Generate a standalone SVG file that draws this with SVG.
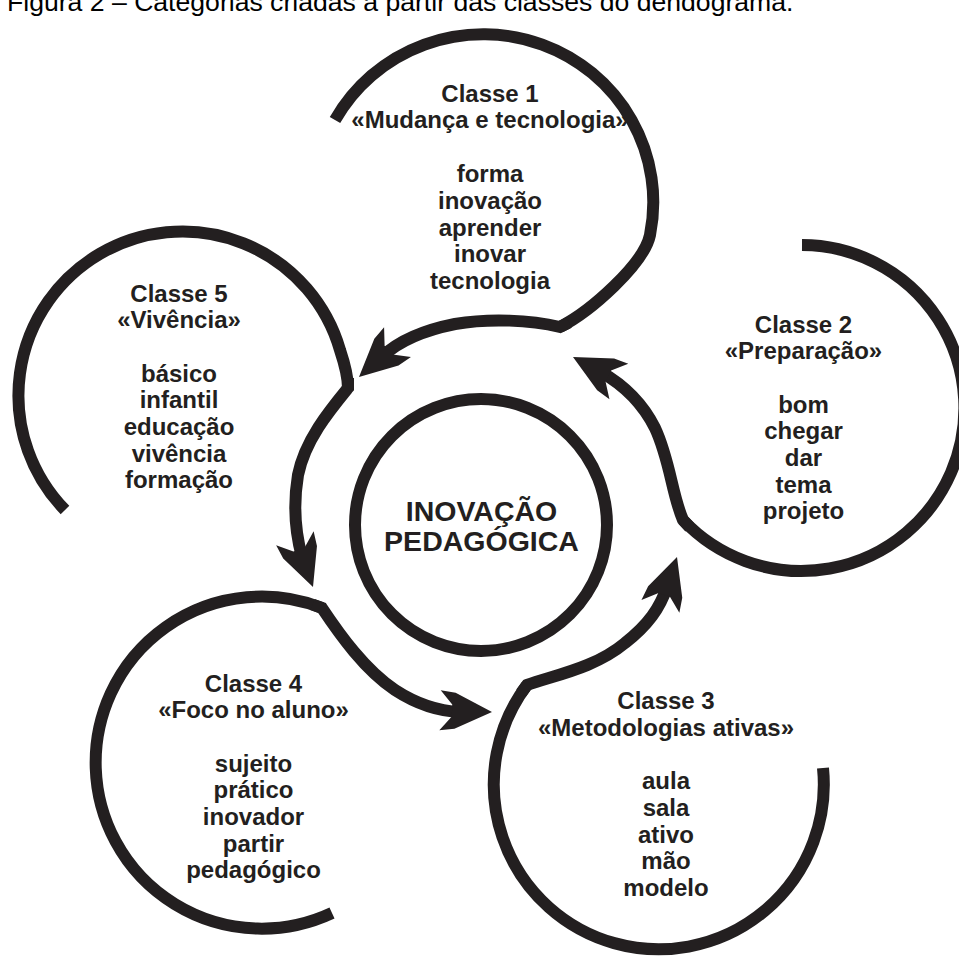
<svg xmlns="http://www.w3.org/2000/svg" width="959" height="956" viewBox="0 0 959 956">
<style>
.ln{fill:none;stroke:#231f20;stroke-width:12;stroke-linecap:butt;stroke-linejoin:miter;stroke-miterlimit:10}
.hd{fill:#231f20}
.t{font-family:"Liberation Sans",Arial,Helvetica,sans-serif;font-weight:bold;font-size:24px;fill:#231f20;text-anchor:middle}
.c{font-size:28.5px}
.title{font-family:"Liberation Sans",Arial,Helvetica,sans-serif;font-size:26.6px;fill:#000}
</style>
<defs>
<path id="ah" d="M0,0 L-37,-18 L-52,-20 L-40,-6 L-40,6 L-52,20 L-37,18 Z"/>
</defs>
<rect width="959" height="956" fill="#fff"/>
<text class="title" x="7" y="11">Figura 2 – Categorias criadas a partir das classes do dendograma.</text>

<g id="center">
<circle class="ln" cx="481" cy="525" r="126"/>
<text class="t c"><tspan x="481.5" y="521">INOVAÇÃO</tspan><tspan x="481.5" y="551">PEDAGÓGICA</tspan></text>
</g>

<g id="classe1">
<path class="ln" d="M335,120 A170,168 0 0 1 650,235 C644,264 591,311 560,327"/>
<text class="t"><tspan x="490" y="101.7">Classe 1</tspan><tspan x="490" y="128.3">«Mudança e tecnologia»</tspan><tspan x="490" y="182.3">forma</tspan><tspan x="490" y="209">inovação</tspan><tspan x="490" y="235.6">aprender</tspan><tspan x="490" y="262.2">inovar</tspan><tspan x="490" y="288.8">tecnologia</tspan></text>
</g>

<g id="classe2">
<path class="ln" d="M802,245 A163,163 0 1 1 683,520"/>
<text class="t"><tspan x="803.5" y="332.7">Classe 2</tspan><tspan x="803.5" y="359.3">«Preparação»</tspan><tspan x="803.5" y="412.7">bom</tspan><tspan x="803.5" y="439.3">chegar</tspan><tspan x="803.5" y="466">dar</tspan><tspan x="803.5" y="492.7">tema</tspan><tspan x="803.5" y="519.3">projeto</tspan></text>
</g>

<g id="classe3">
<path class="ln" d="M823,768 A165,165 0 1 1 527,685"/>
<text class="t"><tspan x="666" y="709.3">Classe 3</tspan><tspan x="666" y="736">«Metodologias ativas»</tspan><tspan x="666" y="789.3">aula</tspan><tspan x="666" y="816">sala</tspan><tspan x="666" y="842.7">ativo</tspan><tspan x="666" y="869.3">mão</tspan><tspan x="666" y="896">modelo</tspan></text>
</g>

<g id="classe4">
<path class="ln" d="M332,913 A166,166 0 1 1 322,608"/>
<text class="t"><tspan x="253.5" y="691.7">Classe 4</tspan><tspan x="253.5" y="718.3">«Foco no aluno»</tspan><tspan x="253.5" y="771.7">sujeito</tspan><tspan x="253.5" y="798.3">prático</tspan><tspan x="253.5" y="825">inovador</tspan><tspan x="253.5" y="851.7">partir</tspan><tspan x="253.5" y="878.3">pedagógico</tspan></text>
</g>

<g id="classe5">
<path class="ln" d="M65,510 A164,164 0 1 1 340,350 C344,362 348,376 348,388"/>
<text class="t"><tspan x="179" y="301.7">Classe 5</tspan><tspan x="179" y="328.3">«Vivência»</tspan><tspan x="179" y="381.7">básico</tspan><tspan x="179" y="408.3">infantil</tspan><tspan x="179" y="435">educação</tspan><tspan x="179" y="461.7">vivência</tspan><tspan x="179" y="488.3">formação</tspan></text>
</g>

<g id="connectors">
<path class="ln" d="M569,322.4 L560,327 C530,320 490,318 455,324 C425,330 400,340 383,356"/>
<use href="#ah" class="hd" transform="translate(359,377) rotate(137.8)"/>
<path class="ln" d="M348,378 L348,388 C330,410 305,440 298,475 C293,505 296,535 302,557"/>
<use href="#ah" class="hd" transform="translate(313,587) rotate(69.6)"/>
<path class="ln" d="M312.6,604.5 L322,608 C340,635 365,670 395,690 C415,703 435,711 460,712"/>
<use href="#ah" class="hd" transform="translate(492,712) rotate(2)"/>
<path class="ln" d="M521.1,693 L527,685 C555,675 595,668 625,643 C648,625 660,608 667,587"/>
<use href="#ah" class="hd" transform="translate(677,557) rotate(-71.4)"/>
<path class="ln" d="M689.8,527.4 L683,520 C672,495 670,460 655,428 C642,402 622,384 601,372"/>
<use href="#ah" class="hd" transform="translate(573,357) rotate(-151.9)"/>
</g>
</svg>
